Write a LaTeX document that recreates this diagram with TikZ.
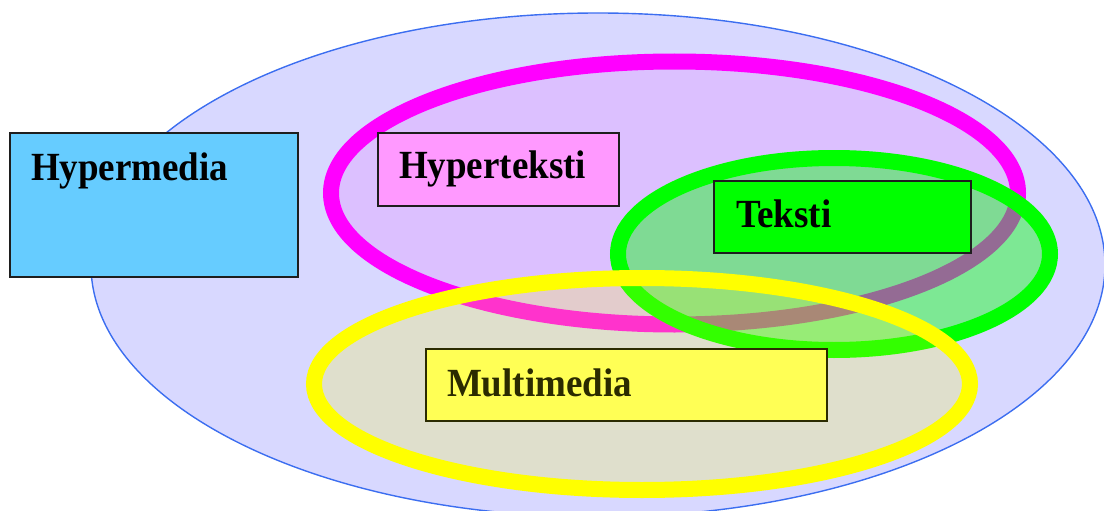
\documentclass[tikz,border=0pt]{standalone}
\usepackage{fontspec}
\setmainfont{Liberation Serif}
\usetikzlibrary{calc}

\definecolor{worldfill}{HTML}{D8D8FF}
\definecolor{worldline}{HTML}{3C6EF0}
\definecolor{hyperfill}{HTML}{DCC0FF}
\definecolor{ringmagenta}{HTML}{FF00FF}
\definecolor{ringgreen}{HTML}{00FF00}
\definecolor{ringyellow}{HTML}{FFFF00}
\definecolor{hmbox}{HTML}{66CCFF}
\definecolor{htbox}{HTML}{FF99FF}
\definecolor{tkbox}{HTML}{00FF00}
\definecolor{mmbox}{HTML}{FFFF55}
\definecolor{mmink}{HTML}{2B2B00}
\definecolor{boxline}{HTML}{1E1E1E}

\tikzset{
  ring/.style={line width=16pt},
  labelbox/.style={draw=boxline, line width=1.6pt, anchor=north west,
    inner sep=0pt, outer sep=0pt},
  boxtext/.style={anchor=base west, inner sep=0pt, outer sep=0pt,
    font=\fontsize{37}{44}\selectfont\bfseries},
}

\newcommand{\tallword}[1]{\scalebox{1}[1.08]{#1}}

\begin{document}
\begin{tikzpicture}[x=1pt, y=-1pt]
  \useasboundingbox (0,0) rectangle (1104,511);
  \begin{scope}
    \clip (0,0) rectangle (1104,511);

    % outer world: everything in the media family
    \fill[worldfill] (598,265) ellipse [x radius=507, y radius=252];
    \draw[worldline, line width=1.4pt] (598,265) ellipse [x radius=507, y radius=252];

    % hypertext set
    \fill[hyperfill] (674.5,193) ellipse [x radius=343.5, y radius=131.5];
    \draw[ring, ringmagenta] (674.5,193) ellipse [x radius=343.5, y radius=131.5];

    % plain text set
    \fill[ringgreen, fill opacity=0.42] (834,254) ellipse [x radius=216, y radius=96];
    \draw[ring, ringgreen] (834,254) ellipse [x radius=216, y radius=96];

    % multimedia set
    \fill[ringyellow, fill opacity=0.2] (642,384) ellipse [x radius=328, y radius=106];
    \draw[ring, ringyellow] (642,384) ellipse [x radius=328, y radius=106];
  \end{scope}

  % labelled boxes
  \node[labelbox, fill=hmbox, minimum width=288pt, minimum height=144pt] (hm) at (10,133) {};
  \node[boxtext] (hmt) at ($(hm.north west)+(21,47)$) {\tallword{Hypermedia}};

  \node[labelbox, fill=htbox, minimum width=241pt, minimum height=73pt] (ht) at (378,133) {};
  \node[boxtext] (htt) at ($(ht.north west)+(21,45)$) {\tallword{Hyperteksti}};

  \node[labelbox, fill=tkbox, minimum width=257pt, minimum height=72pt] (tk) at (714,181) {};
  \node[boxtext] (tkt) at ($(tk.north west)+(22,46)$) {\tallword{Teksti}};

  \node[labelbox, draw=mmink, fill=mmbox, minimum width=401pt, minimum height=72pt] (mm) at (426,349) {};
  \node[boxtext, text=mmink] (mmt) at ($(mm.north west)+(21,47)$) {\tallword{Multimedia}};
\end{tikzpicture}
\end{document}
